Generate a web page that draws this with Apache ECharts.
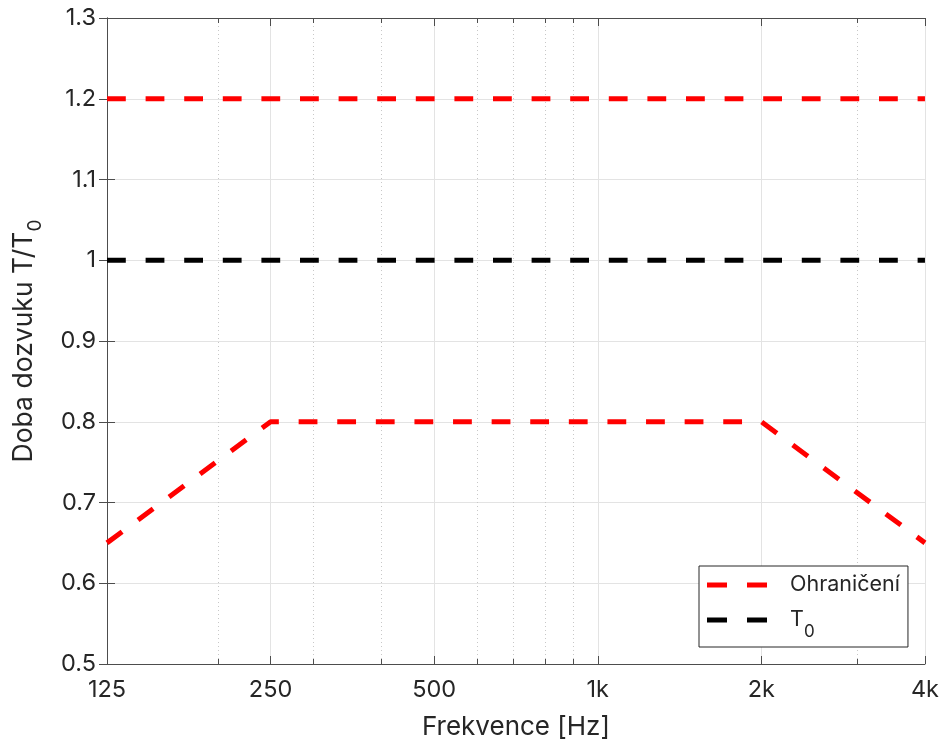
<!DOCTYPE html>
<html>
<head>
<meta charset="utf-8">
<script src="https://cdn.jsdelivr.net/npm/echarts@6/dist/echarts.min.js"></script>
<style>
  html, body { margin: 0; padding: 0; background: #fff; }
  #chart { width: 942px; height: 745px; }
</style>
</head>
<body>
<div id="chart"></div>
<script>
  // frequency points (Hz) and their tick labels
  const freqs = [125, 250, 500, 1000, 2000, 4000]
  const tickLabels = ['125', '250', '500', '1k', '2k', '4k']
  const minorFreqs = [200, 300, 400, 600, 700, 800, 900, 3000]
  // T/T0 limits
  const upperLimit = [1.2, 1.2, 1.2, 1.2, 1.2, 1.2]
  const lowerLimit = [0.65, 0.8, 0.8, 0.8, 0.8, 0.65]
  const t0Values = [1, 1, 1, 1, 1, 1]

  // octave position on the x axis (log2 scale from 125 Hz)
  const xPos = f => Math.log2(f / freqs[0])
  const pairs = vals => freqs.map((f, i) => [xPos(f), vals[i]])

  const font = 'Inter, Liberation Sans, Arial, sans-serif'
  const textColor = '#262626'
  const axisColor = '#4d4d4d'
  const dash = [18.8, 19.8]

  const majorX = (pos, labels) => ({
    type: 'value',
    position: pos,
    min: 0,
    max: 5,
    interval: 1,
    axisLine: { show: true, onZero: false, lineStyle: { color: axisColor, width: 1 } },
    axisTick: { show: true, inside: true, length: 8, lineStyle: { color: axisColor } },
    axisLabel: {
      show: labels,
      margin: 14,
      color: textColor,
      fontSize: 23.5,
      fontFamily: font,
      formatter: v => tickLabels[Math.round(v)]
    },
    splitLine: { show: labels, lineStyle: { color: '#e3e3e3', width: 1 } }
  })
  const minorX = (pos, grid) => ({
    type: 'value',
    position: pos,
    min: 0,
    max: 5,
    axisLine: { show: false, onZero: false },
    axisTick: { show: true, inside: true, length: 5, customValues: minorFreqs.map(xPos), lineStyle: { color: axisColor } },
    axisLabel: { show: false },
    splitLine: { show: grid, lineStyle: { color: '#c8c8c8', width: 1, type: [1, 3] } }
  })
  const yAx = (pos, labels) => ({
    type: 'value',
    position: pos,
    min: 0.5,
    max: 1.3,
    interval: 0.1,
    name: labels ? '{n|Doba dozvuku T/T}{sub|0}' : '',
    nameLocation: 'middle',
    nameGap: 68,
    nameTextStyle: {
      color: textColor,
      fontFamily: font,
      rich: {
        n: { fontSize: 26.5, lineHeight: 28, verticalAlign: 'top', color: textColor, fontFamily: font },
        sub: { fontSize: 19, lineHeight: 19, padding: [15, 0, 0, 0], verticalAlign: 'top', color: textColor, fontFamily: font }
      }
    },
    axisLine: { show: true, lineStyle: { color: axisColor, width: 1 } },
    axisTick: { show: true, inside: true, length: 8, lineStyle: { color: axisColor } },
    axisLabel: {
      show: labels,
      margin: 11,
      color: textColor,
      fontSize: 23.5,
      fontFamily: font,
      formatter: v => String(parseFloat(v.toFixed(1)))
    },
    splitLine: { show: labels, lineStyle: { color: '#e3e3e3', width: 1 } }
  })

  const lineSeries = (name, color, vals) => ({
    name: name,
    type: 'line',
    xAxisIndex: 0,
    yAxisIndex: 0,
    data: pairs(vals),
    symbol: 'none',
    silent: true,
    z: 5,
    lineStyle: { color: color, width: 5, type: dash, cap: 'butt' },
    itemStyle: { color: color }
  })

  const chart = echarts.init(document.getElementById('chart'))
  chart.setOption({
    animation: false,
    backgroundColor: '#fff',
    grid: { left: 107, right: 15, top: 18, bottom: 80 },
    xAxis: [
      Object.assign(majorX('bottom', true), {
        name: 'Frekvence [Hz]',
        nameLocation: 'middle',
        nameGap: 50,
        nameTextStyle: { color: textColor, fontSize: 26, fontFamily: font }
      }),
      majorX('top', false),
      minorX('bottom', true),
      minorX('top', false)
    ],
    yAxis: [yAx('left', true), yAx('right', false)],
    legend: {
      data: ['Ohraničení', 'T0'],
      orient: 'vertical',
      left: 699,
      top: 566,
      padding: [8, 8, 7, 8],
      itemWidth: 60,
      itemHeight: 5,
      itemGap: 13,
      icon: 'path://M0,0H20V5H0Z M40,0H60V5H40Z',
      backgroundColor: '#fff',
      borderColor: '#262626',
      borderWidth: 1,
      borderRadius: 0,
      formatter: name => name === 'T0' ? '{n|T}{sub|0}' : '{n|' + name + '}',
      textStyle: {
        padding: [0, 0, 0, 18],
        rich: {
          n: { fontSize: 21.5, lineHeight: 22, verticalAlign: 'top', color: textColor, fontFamily: font },
          sub: { fontSize: 17, lineHeight: 17, padding: [14, 0, 0, 0], verticalAlign: 'top', color: textColor, fontFamily: font }
        }
      }
    },
    series: [
      lineSeries('Ohraničení', '#ff0000', upperLimit),
      lineSeries('Ohraničení', '#ff0000', lowerLimit),
      lineSeries('T0', '#000000', t0Values)
    ]
  })
</script>
</body>
</html>
